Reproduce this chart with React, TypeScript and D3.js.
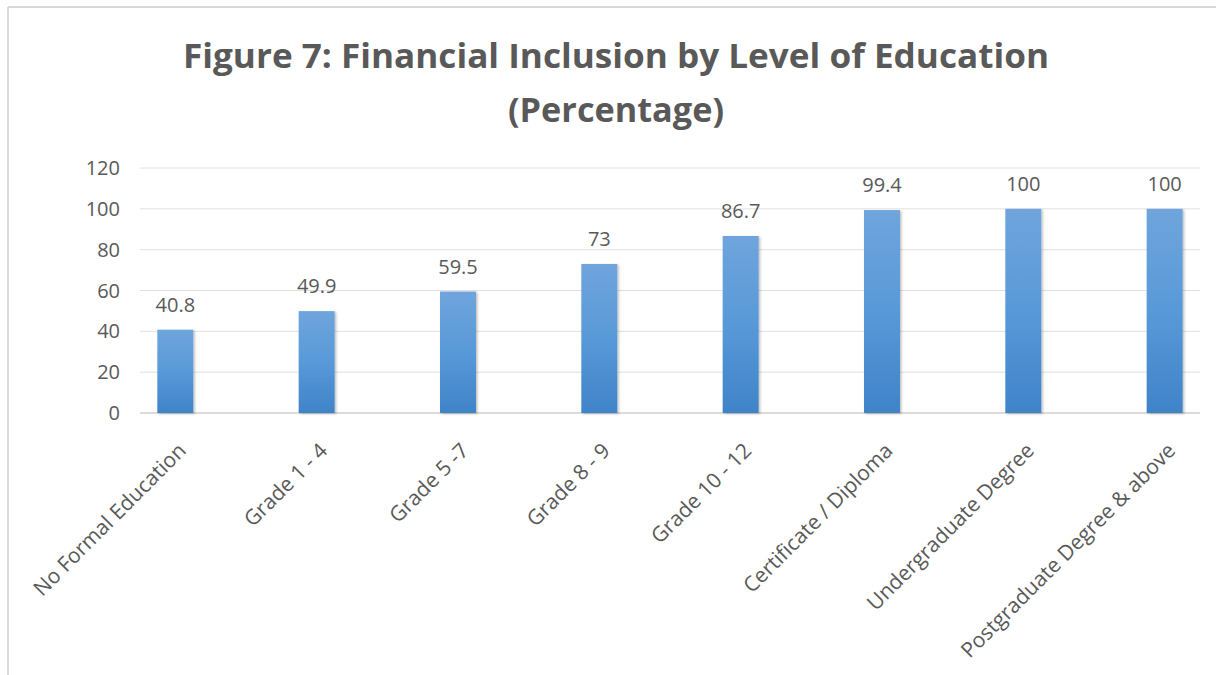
import React from "react";
import * as d3 from "d3";

const categories = [
  "No Formal Education",
  "Grade 1 - 4",
  "Grade 5 -7",
  "Grade 8 - 9",
  "Grade 10 - 12",
  "Certificate / Diploma",
  "Undergraduate Degree",
  "Postgraduate Degree & above",
];
const values = [40.8, 49.9, 59.5, 73, 86.7, 99.4, 100, 100];
const valueLabels = ["40.8", "49.9", "59.5", "73", "86.7", "99.4", "100", "100"];
const yTicks = [0, 20, 40, 60, 80, 100, 120];
const titleLines = ["Figure 7: Financial Inclusion by Level of Education", "(Percentage)"];

const W = 1216;
const H = 675;
const FONT = "'Open Sans', 'Noto Sans', sans-serif";
const TEXT = "#595959";

export default function App() {
  const x = d3.scalePoint<string>().domain(categories).range([140, 1200]).padding(0.25);
  const y = d3.scaleLinear().domain([0, 120]).range([413, 168]);
  const barW = 36;

  return (
    <svg
      width={W}
      height={H}
      style={{ position: "absolute", left: 0, top: 0, background: "#fff" }}
      fontFamily={FONT}
    >
      <defs>
        <linearGradient id="barGrad" x1="0" y1="0" x2="0" y2="1">
          <stop offset="0" stopColor="#6fa5dc" />
          <stop offset="0.5" stopColor="#5899d8" />
          <stop offset="1" stopColor="#3f84c8" />
        </linearGradient>
        <filter id="shadow" x="-30%" y="-10%" width="160%" height="120%">
          <feDropShadow dx="1.5" dy="1" stdDeviation="1.2" floodColor="#000" floodOpacity="0.25" />
        </filter>
      </defs>
      <rect x={0} y={0} width={W} height={H} fill="#fff" />
      {/* frame (top and left) */}
      <line x1={8} x2={W} y1={7} y2={7} stroke="#d9d9d9" strokeWidth={2} />
      <line x1={8} x2={8} y1={7} y2={H} stroke="#d9d9d9" strokeWidth={2} />

      {/* title */}
      <text
        x={616}
        y={68}
        textAnchor="middle"
        fontWeight="bold"
        fontSize={34}
        fill={TEXT}
        textLength={866}
        lengthAdjust="spacingAndGlyphs"
      >
        {titleLines[0]}
      </text>
      <text
        x={616}
        y={122}
        textAnchor="middle"
        fontWeight="bold"
        fontSize={34}
        fill={TEXT}
        textLength={216}
        lengthAdjust="spacingAndGlyphs"
      >
        {titleLines[1]}
      </text>

      {/* gridlines and y ticks */}
      {yTicks.map((t) => (
        <g key={t}>
          <line
            x1={140}
            x2={1200}
            y1={y(t)}
            y2={y(t)}
            stroke={t === 0 ? "#d0d0d0" : "#e0e0e0"}
            strokeWidth={t === 0 ? 1.5 : 1}
          />
          <text x={120} y={y(t)} dy="0.35em" textAnchor="end" fontSize={20} fill={TEXT}>
            {t}
          </text>
        </g>
      ))}

      {/* bars */}
      {categories.map((c, i) => {
        const cx = x(c)!;
        return (
          <g key={c}>
            <rect
              x={cx - barW / 2}
              y={y(values[i])}
              width={barW}
              height={y(0) - y(values[i])}
              fill="url(#barGrad)"
              filter="url(#shadow)"
            />
            <text
              x={cx}
              y={y(values[i]) - 18}
              textAnchor="middle"
              fontSize={20}
              fill={TEXT}
            >
              {valueLabels[i]}
            </text>
            <text
              transform={`translate(${cx + 12},452) rotate(-45)`}
              textAnchor="end"
              fontSize={21}
              fill={TEXT}
            >
              {c}
            </text>
          </g>
        );
      })}
    </svg>
  );
}
